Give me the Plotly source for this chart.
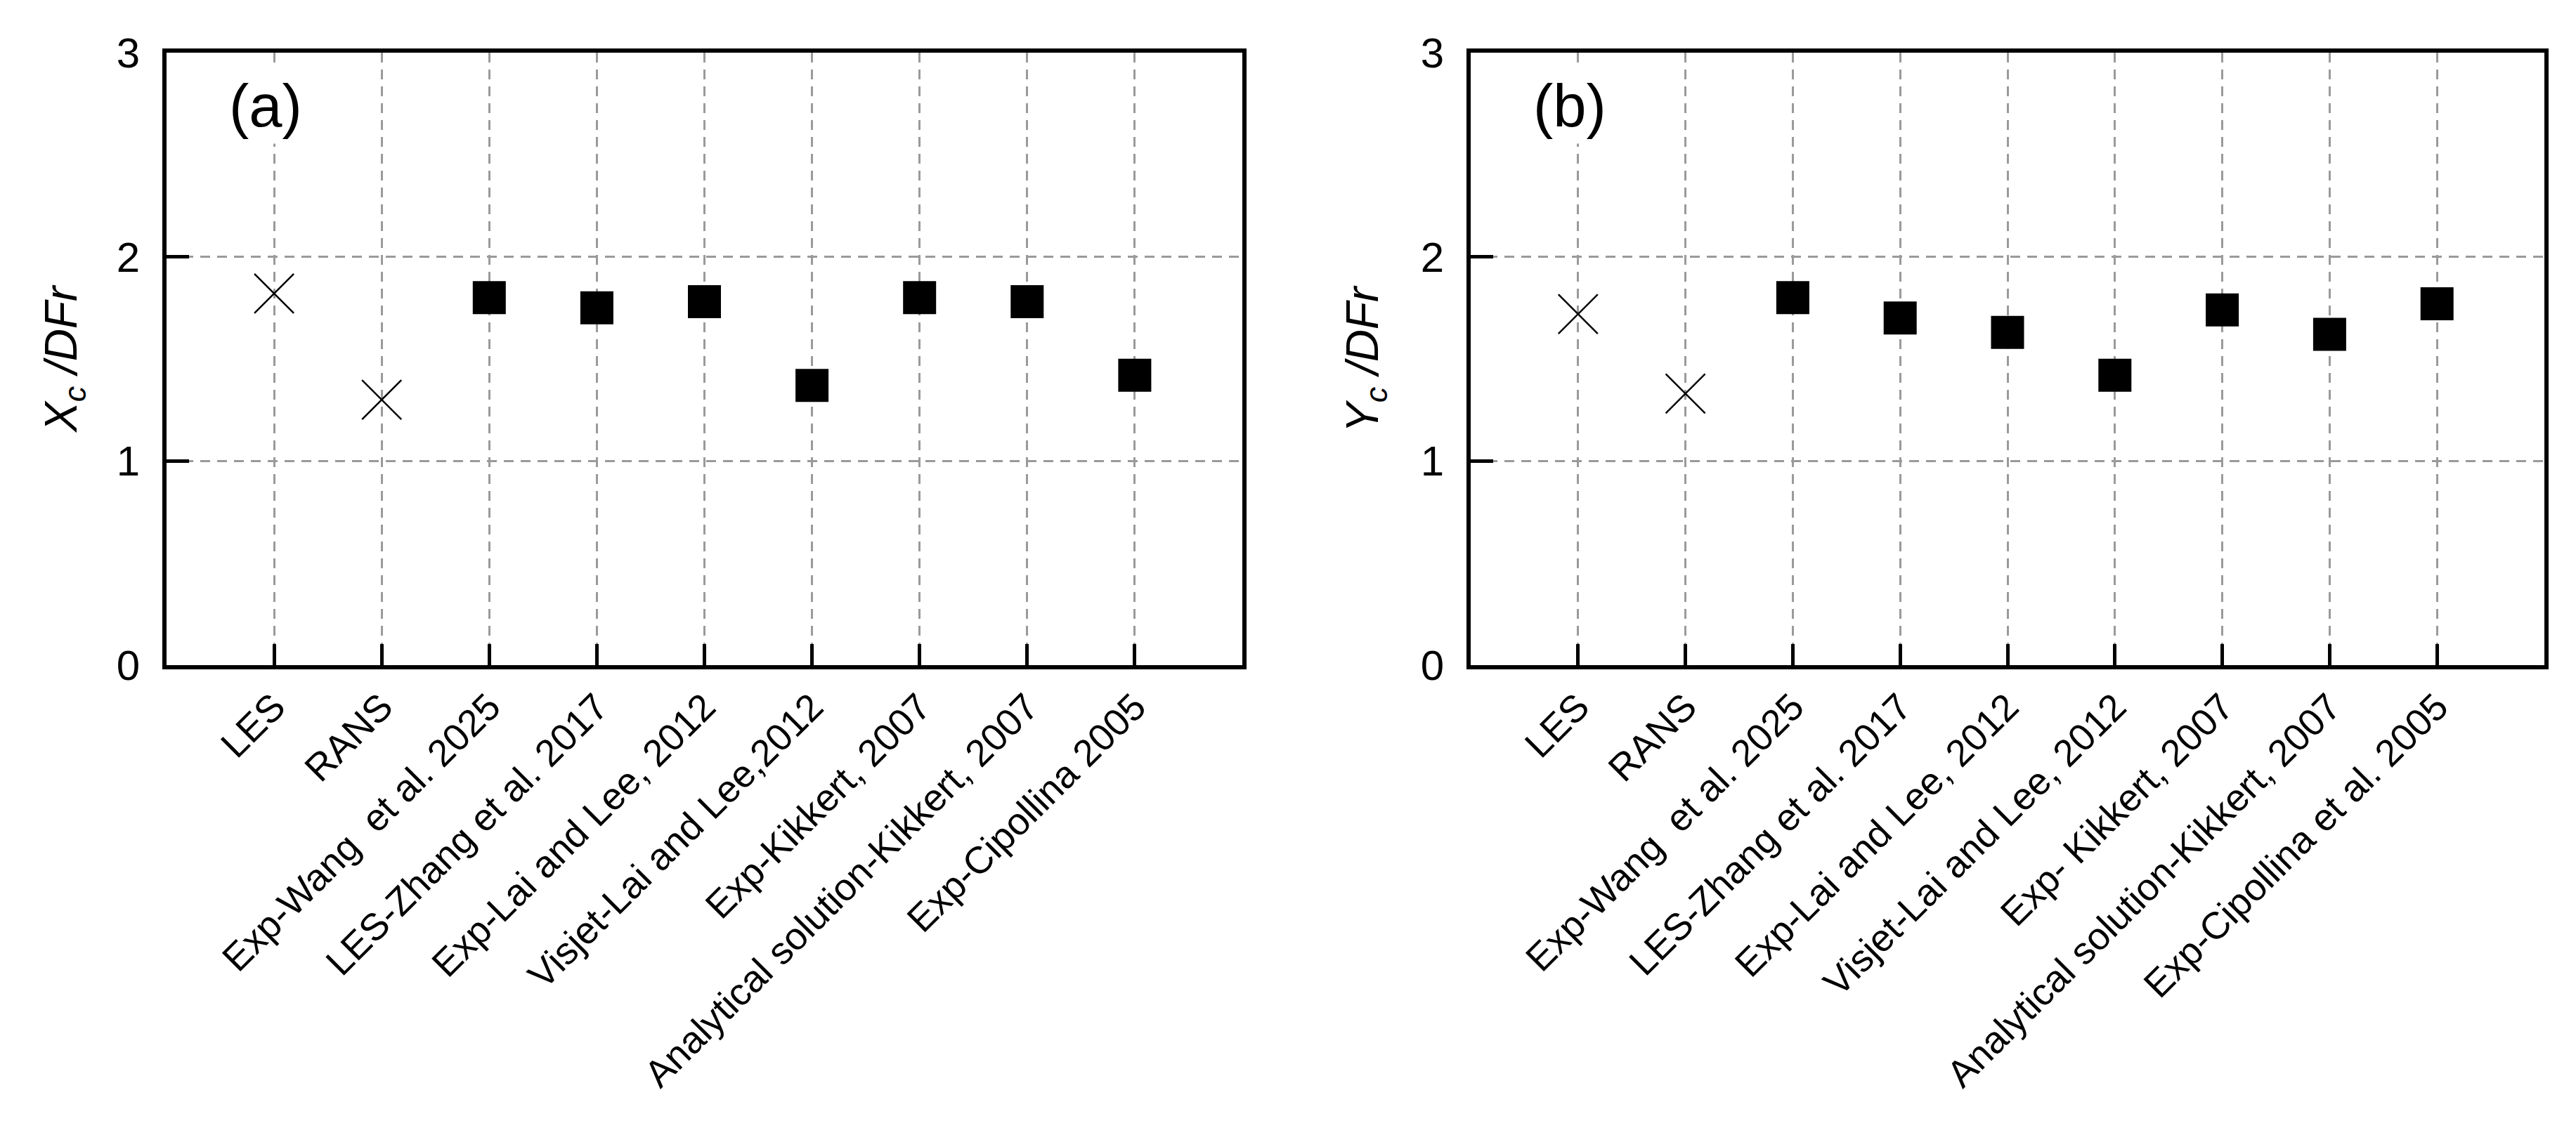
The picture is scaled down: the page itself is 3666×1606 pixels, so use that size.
import plotly.graph_objects as go

# ---- data ----
labels_a = ["LES", "RANS", "Exp-Wang  et al. 2025", "LES-Zhang et al. 2017",
            "Exp-Lai and Lee, 2012", "Visjet-Lai and Lee,2012", "Exp-Kikkert, 2007",
            "Analytical solution-Kikkert, 2007", "Exp-Cipollina 2005"]
labels_b = ["LES", "RANS", "Exp-Wang  et al. 2025", "LES-Zhang et al. 2017",
            "Exp-Lai and Lee, 2012", "Visjet-Lai and Lee, 2012", "Exp- Kikkert, 2007",
            "Analytical solution-Kikkert, 2007", "Exp-Cipollina et al. 2005"]
positions = [1, 2, 3, 4, 5, 6, 7, 8, 9]

# panel (a): Xc/DFr
sim_a = [1.82, 1.30]          # LES, RANS  (x markers)
ref_a = [1.80, 1.75, 1.78, 1.37, 1.80, 1.78, 1.42]  # literature (squares)
# panel (b): Yc/DFr
sim_b = [1.72, 1.33]
ref_b = [1.80, 1.70, 1.63, 1.42, 1.74, 1.62, 1.77]

yticks = [0, 1, 2, 3]

FONT = "Liberation Sans, Arial, sans-serif"
W, H = 3666, 1606
TOP, BOTTOM = 67, 939

fig = go.Figure()

def add_panel(sim, ref, xa, ya):
    fig.add_trace(go.Scatter(
        x=positions[:2], y=sim, mode="markers", xaxis=xa, yaxis=ya,
        marker=dict(symbol="x-thin", size=56, color="black",
                    line=dict(color="black", width=2.5)),
        showlegend=False, cliponaxis=False))
    fig.add_trace(go.Scatter(
        x=positions[2:], y=ref, mode="markers", xaxis=xa, yaxis=ya,
        marker=dict(symbol="square", size=47, color="black",
                    line=dict(width=0)),
        showlegend=False, cliponaxis=False))

add_panel(sim_a, ref_a, "x", "y")
add_panel(sim_b, ref_b, "x2", "y2")

common_axis = dict(
    showline=True, linewidth=6, linecolor="black", mirror=True,
    ticks="inside", tickwidth=5, tickcolor="black",
    showgrid=True, gridcolor="#9a9a9a", gridwidth=2.5, griddash="14px,10px",
    zeroline=False, automargin=False,
)

xdom_a = [229 / W, 1760 / W]
xdom_b = [2085 / W, 3613 / W]

fig.update_layout(
    width=W, height=H, autosize=False,
    margin=dict(l=0, r=0, t=TOP, b=H - BOTTOM, pad=0),
    paper_bgcolor="white", plot_bgcolor="white",
    xaxis=dict(domain=xdom_a, range=[0, 10], tickvals=positions, ticktext=labels_a,
               tickangle=-45, ticklen=30, anchor="y",
               tickfont=dict(family=FONT, size=54, color="black"), **common_axis),
    yaxis=dict(domain=[0, 1], range=[0, 3], tickvals=yticks, ticklen=32,
               anchor="x", ticklabelstandoff=20,
               tickfont=dict(family=FONT, size=60, color="black"), **common_axis),
    xaxis2=dict(domain=xdom_b, range=[0, 10], tickvals=positions, ticktext=labels_b,
                tickangle=-45, ticklen=30, anchor="y2",
                tickfont=dict(family=FONT, size=54, color="black"), **common_axis),
    yaxis2=dict(domain=[0, 1], range=[0, 3], tickvals=yticks, ticklen=32,
                anchor="x2", ticklabelstandoff=20,
                tickfont=dict(family=FONT, size=60, color="black"), **common_axis),
)

# panel labels
for xr, yr, txt in [("x", "y", "(a)"), ("x2", "y2", "(b)")]:
    fig.add_annotation(x=0.92, y=2.74, xref=xr, yref=yr, text=txt, showarrow=False,
                       xanchor="center", yanchor="middle",
                       font=dict(family=FONT, size=85, color="black"),
                       bgcolor="white", borderpad=6)

# y-axis titles
fig.add_annotation(x=83 / W, y=0.5, xref="paper", yref="paper",
                   xanchor="center", yanchor="middle",
                   text="<i>X</i><sub><i>c</i></sub><i> /DFr</i>", textangle=-90,
                   showarrow=False, font=dict(family=FONT, size=64, color="black"))
fig.add_annotation(x=1935 / W, y=0.5, xref="paper", yref="paper",
                   xanchor="center", yanchor="middle",
                   text="<i>Y</i><sub><i>c</i></sub><i> /DFr</i>", textangle=-90,
                   showarrow=False, font=dict(family=FONT, size=64, color="black"))

fig.write_html("out.html")
